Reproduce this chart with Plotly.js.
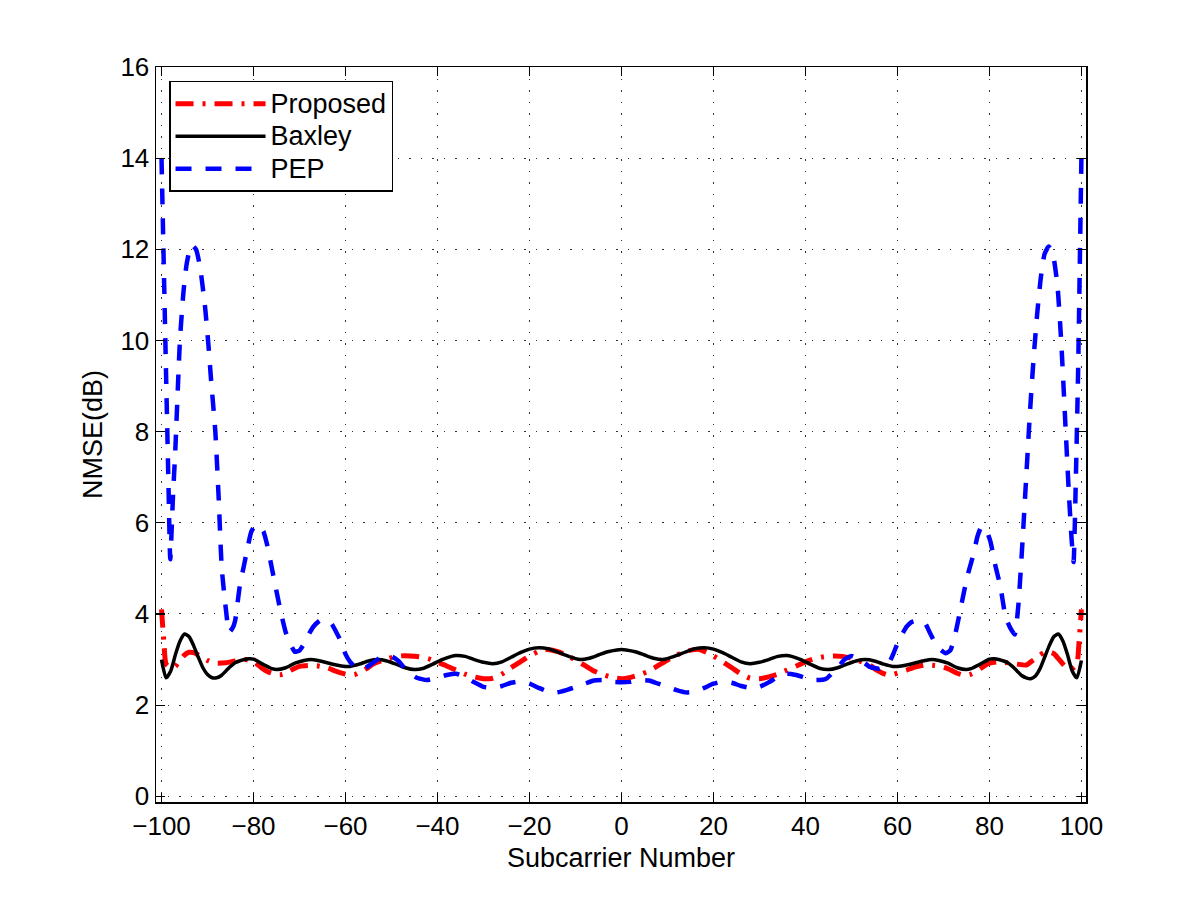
<!DOCTYPE html>
<html>
<head>
<meta charset="utf-8">
<script src="https://cdn.plot.ly/plotly-3.0.1.min.js"></script>
<style>html,body{margin:0;padding:0;background:#fff;}#chart{width:1200px;height:903px;}</style>
</head>
<body>
<div id="chart"></div>
<script>
// Subcarrier positions and NMSE (dB) values
const baxleyX = [-100,-99,-98,-97,-96,-95,-94,-93,-92,-91,-90,-89,-88,-87,-86,-85,-84,-82,-81,-80,-78,-76,-75,-73,-71,-69,-67.5,-66,-64,-62,-60,-59,-57,-55,-53,-51,-49,-47,-45,-43,-41,-39,-37,-36,-34,-32,-30,-28,-26,-24,-22,-20,-18,-16,-14,-12,-10,-9,-7,-5,-3,-1,0,
  1,3,5,7,9,10,12,14,16,18,20,22,24,26,28,30,32,34,36,37,39,41,43,45,47,49,51,53,55,57,59,60,62,64,66,67.5,69,71,73,75,76,78,80,81,82,84,85,86,87,88,89,90,91,92,93,94,95,96,97,98,99,100];
const baxleyY = [3.0,2.6,2.75,3.1,3.4,3.56,3.5,3.3,3.05,2.82,2.67,2.6,2.6,2.65,2.75,2.85,2.93,3.0,3.02,3.01,2.9,2.8,2.78,2.82,2.92,2.98,3.0,2.98,2.93,2.88,2.85,2.85,2.9,2.97,3.0,2.97,2.9,2.82,2.78,2.81,2.9,3.0,3.07,3.09,3.07,3.0,2.94,2.91,2.95,3.05,3.15,3.23,3.26,3.24,3.17,3.09,3.02,3.0,3.03,3.1,3.17,3.21,3.22,
  3.21,3.17,3.1,3.03,3.0,3.02,3.09,3.17,3.24,3.26,3.23,3.15,3.05,2.95,2.91,2.94,3.0,3.07,3.09,3.07,3.0,2.9,2.81,2.78,2.82,2.9,2.97,3.0,2.97,2.9,2.85,2.85,2.88,2.93,2.98,3.0,2.98,2.92,2.82,2.78,2.8,2.9,3.01,3.02,3.0,2.93,2.85,2.75,2.65,2.6,2.58,2.64,2.8,3.05,3.3,3.5,3.56,3.4,3.1,2.75,2.6,2.98];

const proposedX = [-100,-99.5,-99,-98,-97,-96,-95,-94,-93,-92,-91,-90,-89,-88,-86,-84,-82,-81,-80,-79,-78,-77,-76,-75,-74,-73,-72,-71,-70,-68,-66,-64,-62,-60,-59,-58,-57,-56,-55,-54,-52,-50,-48,-46,-44,-42,-40,-38,-36,-34,-32,-30,-28,-26,-24,-22,-20,-18,-17,-16,-14,-12,-10,-8,-6,-4,-2,0,
  2,4,6,8,10,12,14,16,17,18,20,22,24,26,28,30,32,34,36,38,40,42,44,46,48,50,52,54,55,56,57,58,59,60,62,64,66,68,70,71,72,73,74,75,76,77,78,79,80,81,82,84,86,88,89,90,91,92,93,94,95,96,97,98,99,99.5,100];
const proposedY = [4.1,3.4,2.9,2.82,2.85,2.98,3.1,3.16,3.15,3.1,3.04,2.98,2.94,2.92,2.93,2.97,3.0,2.99,2.95,2.88,2.8,2.74,2.7,2.67,2.67,2.7,2.76,2.81,2.85,2.87,2.86,2.82,2.74,2.68,2.66,2.67,2.72,2.77,2.83,2.9,2.98,3.04,3.08,3.08,3.06,3.02,2.94,2.86,2.77,2.68,2.62,2.58,2.59,2.68,2.82,2.95,3.08,3.18,3.22,3.22,3.18,3.1,2.99,2.87,2.75,2.67,2.61,2.58,
  2.61,2.67,2.75,2.87,2.99,3.1,3.18,3.22,3.22,3.18,3.08,2.95,2.82,2.68,2.59,2.58,2.62,2.68,2.77,2.86,2.95,3.02,3.06,3.08,3.07,3.03,2.96,2.88,2.8,2.74,2.69,2.66,2.67,2.7,2.77,2.84,2.88,2.87,2.84,2.8,2.75,2.7,2.67,2.66,2.68,2.73,2.8,2.87,2.92,2.94,2.95,2.93,2.9,2.88,2.95,3.02,3.1,3.16,3.17,3.13,3.02,2.9,2.8,2.8,2.9,3.4,4.1];

const pepX = [-100,-99.5,-99,-98.5,-98.1,-97.5,-97,-96,-95.2,-94.5,-93.5,-92.5,-91.6,-90.5,-89.8,-89.2,-88.3,-87.6,-86.9,-86,-85.3,-84.5,-84,-83,-82,-81.4,-80.5,-79.6,-78.7,-77.8,-77,-76,-75,-74.2,-73,-72,-71,-70,-69,-68,-67,-65.5,-64,-63,-62,-61,-60,-59,-58,-56,-54,-52.5,-50,-48.5,-47.4,-46,-44.5,-42.3,-40,-38,-36,-34,-32,-30,-28,-26,-24,-22,-20,-18,-16,-14,-12,-10,-8,-6,-4,-2,0,
  2,4,6,8,10,12,14,16,18,20,22,24,26,28,30,32,34,36,38,40,42.3,44.5,46,47.4,48.5,50,52.5,54,56,58,59,60,61,62,63,64.5,66,67,68,69,70.5,71.5,72.6,73.5,74.5,75.4,76.6,77.4,78.2,79,80.2,81.2,82.4,83.5,84.5,85.5,86.3,87.2,88,88.8,89.6,90.4,91.2,92,92.9,93.8,94.8,95.6,96.6,97.3,97.9,98.3,98.8,99.3,100];
const pepY = [14.0,11.6,9.2,6.9,5.2,6.6,7.6,10.0,11.1,11.7,12.1,12.0,11.6,10.7,9.9,9.1,8.0,6.6,5.0,4.1,3.6,3.7,3.85,4.6,5.1,5.4,5.8,5.95,5.92,5.8,5.5,5.0,4.5,4.1,3.6,3.35,3.17,3.2,3.35,3.55,3.72,3.86,3.84,3.78,3.6,3.4,3.12,2.95,2.85,2.8,2.93,3.04,3.07,2.97,2.84,2.7,2.6,2.55,2.6,2.66,2.69,2.62,2.5,2.4,2.38,2.42,2.49,2.52,2.47,2.38,2.3,2.28,2.33,2.4,2.47,2.54,2.55,2.51,2.5,
  2.51,2.55,2.54,2.47,2.4,2.33,2.28,2.3,2.38,2.47,2.52,2.49,2.42,2.38,2.4,2.5,2.62,2.69,2.66,2.6,2.55,2.58,2.72,2.87,3.0,3.08,2.95,2.84,2.8,2.9,3.1,3.35,3.55,3.72,3.82,3.86,3.8,3.6,3.4,3.25,3.14,3.2,3.57,4.0,4.5,4.9,5.33,5.7,5.9,5.9,5.6,5.1,4.6,3.94,3.7,3.55,4.2,5.6,7.0,8.4,9.6,10.6,11.4,11.9,12.06,11.9,11.2,10.0,8.0,6.6,5.6,5.14,7.0,9.4,14.0];

const xTicks = [-100,-80,-60,-40,-20,0,20,40,60,80,100];
const yTicks = [0,2,4,6,8,10,12,14,16];
const seriesNames = ['Proposed','Baxley','PEP'];

const FONT = 'Liberation Sans, Arial, Helvetica, sans-serif';
const legendName = s => '<span style="font-size:27px">' + s + '</span>';

const traces = [
  {x: proposedX, y: proposedY, name: legendName(seriesNames[0]), mode: 'lines', type: 'scatter',
   line: {color: '#ff0000', width: 5, dash: '18px,9px,3px,9px', shape: 'spline', smoothing: 0.6}},
  {x: baxleyX, y: baxleyY, name: legendName(seriesNames[1]), mode: 'lines', type: 'scatter',
   line: {color: '#000000', width: 3.5, shape: 'spline', smoothing: 0.6}},
  {x: pepX, y: pepY, name: legendName(seriesNames[2]), mode: 'lines', type: 'scatter',
   line: {color: '#0000ff', width: 4.5, dash: '16px,14px', shape: 'spline', smoothing: 0.5}}
];

const axisCommon = {
  showline: true, linecolor: '#000', linewidth: 1.5, mirror: 'allticks',
  ticks: 'inside', ticklen: 9, tickwidth: 1.2, tickcolor: '#000',
  showgrid: true, gridcolor: '#333', gridwidth: 1, griddash: '1.5px,10px',
  zeroline: false, tickfont: {family: FONT, size: 26, color: '#000'}
};

const layout = {
  width: 1200, height: 903,
  margin: {l: 156, r: 114, t: 67, b: 101, pad: 0},
  paper_bgcolor: '#fff', plot_bgcolor: '#fff',
  font: {family: FONT, color: '#000'},
  showlegend: true,
  xaxis: Object.assign({}, axisCommon, {
    range: [-101.2, 101], tickmode: 'array', tickvals: xTicks, ticktext: xTicks.map(v => v < 0 ? '\u2212' + Math.abs(v) : String(v)),
    title: {text: 'Subcarrier Number', font: {family: FONT, size: 27, color: '#000'}, standoff: 8}
  }),
  yaxis: Object.assign({}, axisCommon, {
    range: [-0.125, 16], tickmode: 'array', tickvals: yTicks,
    title: {text: 'NMSE(dB)', font: {family: FONT, size: 27, color: '#000'}, standoff: 10}
  }),
  legend: {
    x: 0.014, y: 0.981, xanchor: 'left', yanchor: 'top',
    bgcolor: '#fff', bordercolor: '#000', borderwidth: 1.5,
    font: {family: FONT, size: 22.7, color: '#000'},
    itemwidth: 90, tracegroupgap: 0
  }
};

Plotly.newPlot('chart', traces, layout, {displayModeBar: false, staticPlot: true});
</script>
</body>
</html>
